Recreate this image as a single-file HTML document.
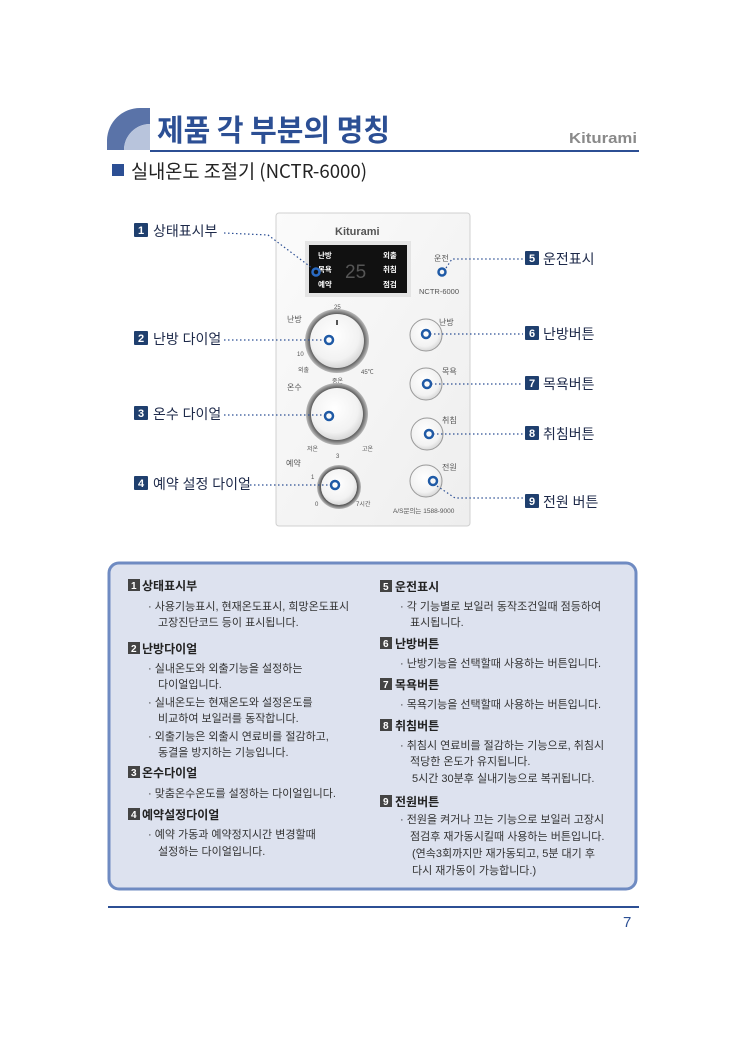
<!DOCTYPE html>
<html><head><meta charset="utf-8"><style>
html,body{margin:0;padding:0;background:#fff}
svg{display:block}
text{font-family:"Liberation Sans","Noto Sans CJK KR",sans-serif}
.k{font-family:"Noto Sans CJK KR","Liberation Sans",sans-serif}
</style></head><body>
<svg width="743" height="1042" viewBox="0 0 743 1042" xmlns="http://www.w3.org/2000/svg">
<defs>
<radialGradient id="dial" cx="45%" cy="40%" r="65%"><stop offset="0" stop-color="#ffffff"/><stop offset="0.7" stop-color="#f2f2f2"/><stop offset="1" stop-color="#cfcfcf"/></radialGradient>
<radialGradient id="ring" cx="50%" cy="50%" r="50%"><stop offset="0.8" stop-color="#444"/><stop offset="1" stop-color="#bbb"/></radialGradient>
<linearGradient id="panel" x1="0" y1="0" x2="1" y2="1"><stop offset="0" stop-color="#fbfbfb"/><stop offset="1" stop-color="#eeeeee"/></linearGradient>
</defs>
<path d="M107,150 L107,140 A33,33 0 0 1 140,108 L150,108 L150,124 A26,26 0 0 0 124,150 Z" fill="#5a73a8"/>
<path d="M124,150 A26,26 0 0 1 150,124 L150,150 Z" fill="#b8c4dc"/>
<text x="157" y="141" class="k" font-size="30" font-weight="bold" fill="#2c4f94" textLength="233" lengthAdjust="spacingAndGlyphs">제품 각 부분의 명칭</text>
<rect x="150" y="150" width="489" height="2" fill="#2c4f94"/>
<text x="569" y="143" font-size="15" font-weight="bold" fill="#8a8a8a" textLength="68" lengthAdjust="spacingAndGlyphs">Kiturami</text>
<rect x="112" y="164" width="12" height="12" fill="#2c4f94"/>
<text x="131" y="178" class="k" font-size="19" fill="#222" textLength="236" lengthAdjust="spacingAndGlyphs">실내온도 조절기 (NCTR-6000)</text>

<rect x="276" y="213" width="194" height="313" rx="3" fill="url(#panel)" stroke="#d0d0d0"/>
<text x="335" y="235" font-size="11" font-weight="bold" fill="#555">Kiturami</text>
<rect x="305" y="241" width="106" height="56" fill="#e4e4e4"/>
<rect x="309" y="245" width="98" height="48" fill="#111"/>
<g class="k" font-size="7.5" font-weight="bold" fill="#fff">
<text x="318" y="258">난방</text><text x="318" y="272">목욕</text><text x="318" y="287">예약</text>
<text x="383" y="258">외출</text><text x="383" y="272">취침</text><text x="383" y="287">점검</text>
</g>
<text x="345" y="278" font-size="19" fill="#555" font-family="Liberation Mono,monospace">25</text>
<circle cx="316" cy="272" r="3.5" fill="none" stroke="#2a6bc4" stroke-width="2.5"/>
<text x="434" y="261" class="k" font-size="8" fill="#555">운전</text>
<circle cx="442" cy="272" r="3.5" fill="none" stroke="#1f5aa6" stroke-width="2.5"/>
<text x="419" y="294" font-size="7.5" fill="#555">NCTR-6000</text>

<g class="k" font-size="8" fill="#555">
<text x="287" y="322">난방</text><text x="287" y="390">온수</text><text x="286" y="466">예약</text>
<text x="334" y="309" font-size="6">25</text><text x="297" y="356" font-size="6">10</text><text x="298" y="372" font-size="6">외출</text><text x="361" y="374" font-size="6">45℃</text>
<text x="332" y="383" font-size="6">중온</text><text x="307" y="451" font-size="6">저온</text><text x="362" y="451" font-size="6">고온</text>
<text x="336" y="458" font-size="6">3</text><text x="311" y="479" font-size="6">1</text><text x="315" y="506" font-size="6">0</text><text x="356" y="506" font-size="6">7시간</text>
<text x="439" y="325">난방</text><text x="442" y="374">목욕</text><text x="442" y="423">취침</text><text x="442" y="470">전원</text>
<text x="393" y="513" font-size="6.5">A/S문의는 1588-9000</text>
</g>
<circle cx="337" cy="341" r="32" fill="url(#ring)"/>
<circle cx="337" cy="341" r="27" fill="url(#dial)"/>
<rect x="336" y="320" width="2" height="5" fill="#555"/>
<circle cx="337" cy="414" r="31" fill="url(#ring)"/>
<circle cx="337" cy="414" r="26" fill="url(#dial)"/>
<circle cx="339" cy="487" r="22" fill="url(#ring)"/>
<circle cx="339" cy="487" r="18" fill="url(#dial)"/>
<g fill="url(#dial)" stroke="#999" stroke-width="1">
<circle cx="426" cy="335" r="16"/><circle cx="426" cy="384" r="16"/><circle cx="427" cy="434" r="16"/><circle cx="426" cy="481" r="16"/>
</g>
<g fill="none" stroke="#1f5aa6" stroke-width="2.5">
<circle cx="329" cy="340" r="4"/><circle cx="329" cy="416" r="4"/><circle cx="335" cy="485" r="4"/>
<circle cx="426" cy="334" r="4"/><circle cx="427" cy="384" r="4"/><circle cx="429" cy="434" r="4"/><circle cx="433" cy="481" r="4"/>
</g>

<g stroke="#2c4f94" stroke-width="1.2" stroke-dasharray="1.5,2.5" fill="none">
<path d="M224,233 L268,235 L312,268"/>
<path d="M224,340 L325,340"/><path d="M224,415 L325,415"/><path d="M250,485 L331,485"/>
<path d="M446,268 L452,259 L523,259"/><path d="M430,334 L523,334"/><path d="M431,384 L523,384"/><path d="M433,434 L523,434"/><path d="M437,486 L455,498 L523,498"/>
</g>
<g font-size="14" class="k">
<g fill="#1f3f6e"><rect x="134" y="223" width="14" height="14" rx="1"/><rect x="134" y="331" width="14" height="14" rx="1"/><rect x="134" y="406" width="14" height="14" rx="1"/><rect x="134" y="476" width="14" height="14" rx="1"/>
<rect x="525" y="251" width="14" height="14" rx="1"/><rect x="525" y="326" width="14" height="14" rx="1"/><rect x="525" y="376" width="14" height="14" rx="1"/><rect x="525" y="426" width="14" height="14" rx="1"/><rect x="525" y="494" width="14" height="14" rx="1"/></g>
<g fill="#fff" font-size="11" font-weight="bold"><text x="138" y="234">1</text><text x="138" y="342">2</text><text x="138" y="417">3</text><text x="138" y="487">4</text>
<text x="529" y="262">5</text><text x="529" y="337">6</text><text x="529" y="387">7</text><text x="529" y="437">8</text><text x="529" y="505">9</text></g>
<g fill="#1e2a4a"><text x="153" y="236">상태표시부</text><text x="153" y="344">난방 다이얼</text><text x="153" y="419">온수 다이얼</text><text x="153" y="489">예약 설정 다이얼</text>
<text x="543" y="264">운전표시</text><text x="543" y="339">난방버튼</text><text x="543" y="389">목욕버튼</text><text x="543" y="439">취침버튼</text><text x="543" y="507">전원 버튼</text></g>
</g>

<rect x="109" y="563" width="527" height="326" rx="10" fill="#dde2ef" stroke="#6f8bc2" stroke-width="3"/>
<g fill="#444"><rect x="128" y="579" width="12" height="12"/><rect x="128" y="642" width="12" height="12"/><rect x="128" y="766" width="12" height="12"/><rect x="128" y="808" width="12" height="12"/>
<rect x="380" y="580" width="12" height="12"/><rect x="380" y="637" width="12" height="12"/><rect x="380" y="678" width="12" height="12"/><rect x="380" y="719" width="12" height="12"/><rect x="380" y="795" width="12" height="12"/></g>
<g fill="#fff" font-size="10" font-weight="bold"><text x="131" y="589">1</text><text x="131" y="652">2</text><text x="131" y="776">3</text><text x="131" y="818">4</text>
<text x="383" y="590">5</text><text x="383" y="647">6</text><text x="383" y="688">7</text><text x="383" y="729">8</text><text x="383" y="805">9</text></g>
<g class="k" font-size="12" font-weight="bold" fill="#222">
<text x="142" y="590">상태표시부</text><text x="142" y="653">난방다이얼</text><text x="142" y="777">온수다이얼</text><text x="142" y="819">예약설정다이얼</text>
<text x="395" y="591">운전표시</text><text x="395" y="648">난방버튼</text><text x="395" y="689">목욕버튼</text><text x="395" y="730">취침버튼</text><text x="395" y="806">전원버튼</text>
</g>
<g class="k" font-size="11" fill="#333">
<text x="148" y="610">· 사용기능표시, 현재온도표시, 희망온도표시</text><text x="158" y="626">고장진단코드 등이 표시됩니다.</text>
<text x="148" y="672">· 실내온도와 외출기능을 설정하는</text><text x="158" y="688">다이얼입니다.</text>
<text x="148" y="706">· 실내온도는 현재온도와 설정온도를</text><text x="158" y="722">비교하여 보일러를 동작합니다.</text>
<text x="148" y="740">· 외출기능은 외출시 연료비를 절감하고,</text><text x="158" y="756">동결을 방지하는 기능입니다.</text>
<text x="148" y="797">· 맞춤온수온도를 설정하는 다이얼입니다.</text>
<text x="148" y="838">· 예약 가동과 예약정지시간 변경할때</text><text x="158" y="855">설정하는 다이얼입니다.</text>
<text x="400" y="610">· 각 기능별로 보일러 동작조건일때 점등하여</text><text x="410" y="626">표시됩니다.</text>
<text x="400" y="667">· 난방기능을 선택할때 사용하는 버튼입니다.</text>
<text x="400" y="708">· 목욕기능을 선택할때 사용하는 버튼입니다.</text>
<text x="400" y="749">· 취침시 연료비를 절감하는 기능으로, 취침시</text><text x="410" y="765">적당한 온도가 유지됩니다.</text><text x="412" y="782">5시간 30분후 실내기능으로 복귀됩니다.</text>
<text x="400" y="823">· 전원을 켜거나 끄는 기능으로 보일러 고장시</text><text x="410" y="840">점검후 재가동시킬때 사용하는 버튼입니다.</text><text x="412" y="857">(연속3회까지만 재가동되고, 5분 대기 후</text><text x="412" y="874">다시 재가동이 가능합니다.)</text>
</g>

<rect x="108" y="906" width="531" height="2" fill="#2c4f94"/>
<text x="623" y="927" font-size="15" fill="#2c4f94">7</text>
</svg>
</body></html>
